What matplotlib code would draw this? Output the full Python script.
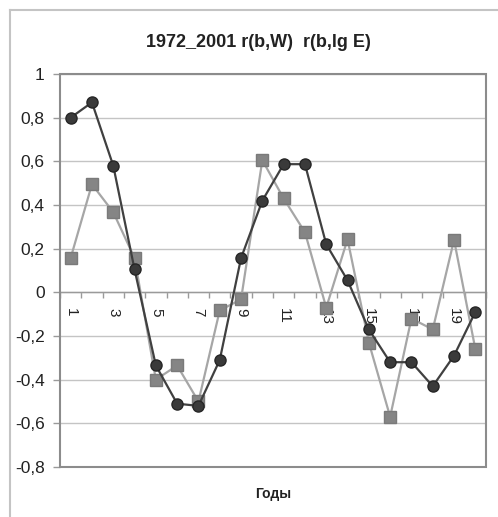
import matplotlib
matplotlib.use("Agg")
import matplotlib.pyplot as plt
from matplotlib.patches import Rectangle
from matplotlib.lines import Line2D

plt.rcParams['font.family'] = ['Liberation Sans', 'DejaVu Sans']

title = "1972_2001 r(b,W)  r(b,lg E)"
xlabel = "Годы"
years = list(range(1, 21))
x_tick_labels = ["1", "3", "5", "7", "9", "11", "13", "15", "17", "19"]
y_ticks = [-0.8, -0.6, -0.4, -0.2, 0, 0.2, 0.4, 0.6, 0.8, 1]
y_tick_labels = ["-0,8", "-0,6", "-0,4", "-0,2", "0", "0,2", "0,4", "0,6", "0,8", "1"]

r_bW = [0.80, 0.87, 0.58, 0.105, -0.335, -0.51, -0.52, -0.31, 0.157, 0.42,
        0.587, 0.587, 0.22, 0.055, -0.17, -0.32, -0.32, -0.43, -0.29, -0.09]
r_blgE = [0.157, 0.495, 0.367, 0.157, -0.40, -0.335, -0.50, -0.083, -0.032, 0.605,
          0.43, 0.275, -0.07, 0.243, -0.23, -0.57, -0.12, -0.17, 0.24, -0.26]

W, H = 498, 517
fig = plt.figure(figsize=(W / 100, H / 100), dpi=100)
ax = fig.add_axes([60 / W, 1 - 467 / H, (486 - 60) / W, (467 - 74) / H])

ax.plot(years, r_blgE, color="#a6a6a6", lw=1.6, marker="s", ms=8.5,
        mfc="#858585", mec="#7a7a7a", zorder=3)
ax.plot(years, r_bW, color="#404040", lw=1.6, marker="o", ms=8,
        mfc="#3a3a3a", mec="#262626", zorder=4)

ax.set_xlim(0.5, 20.5)
ax.set_ylim(-0.8, 1.0)
ax.set_yticks(y_ticks, y_tick_labels)
ax.grid(axis="y", color="#c4c4c4", lw=1.0, zorder=0)
ax.set_axisbelow(True)

# x axis crosses at y = 0
for s in ["top", "right", "left"]:
    ax.spines[s].set_visible(False)
ax.spines["bottom"].set_position(("data", 0))
ax.spines["bottom"].set_color("#9a9a9a")
ax.spines["bottom"].set_linewidth(1.0)
ax.add_patch(Rectangle((0, 0), 1, 1, transform=ax.transAxes, fill=False,
                       ec="#8c8c8c", lw=1.5, zorder=5, clip_on=False))

bounds = [i + 0.5 for i in range(0, 21)]
ax.set_xticks(bounds, [""] * len(bounds))
ax.set_xticks(years[::2], x_tick_labels, minor=True)
ax.tick_params(axis="x", which="major", direction="out", length=4, color="#9a9a9a", width=1)
ax.tick_params(axis="x", which="minor", length=0, pad=11, labelsize=11,
               labelrotation=270, labelcolor="#222222")
ax.tick_params(axis="y", direction="out", length=5, color="#9a9a9a", width=1,
               pad=6, labelsize=12.5, labelcolor="#222222")

fig.text(258 / W, 1 - 47 / H, title, ha="center", va="baseline",
         fontsize=13, fontweight="bold", color="#222222")
fig.text(273 / W, 1 - 498 / H, xlabel, ha="center", va="baseline",
         fontsize=10, fontweight="bold", color="#222222")

# outer chart border (left and top visible)
fig.add_artist(Line2D([10 / W, 10 / W], [0, 1 - 10 / H], transform=fig.transFigure,
                      color="#c4c4c4", lw=1.5))
fig.add_artist(Line2D([10 / W, 1], [1 - 10 / H, 1 - 10 / H], transform=fig.transFigure,
                      color="#c4c4c4", lw=1.5))

fig.savefig("out.png", dpi=100, facecolor="white")
